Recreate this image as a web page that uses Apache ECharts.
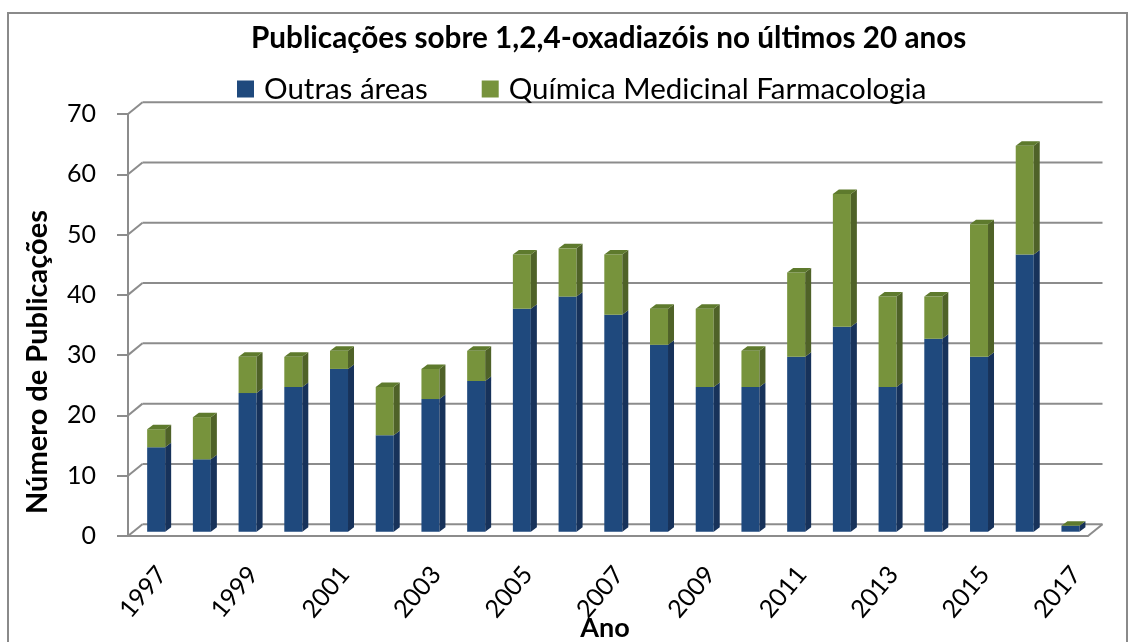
<!DOCTYPE html>
<html><head><meta charset="utf-8">
<script src="https://cdn.jsdelivr.net/npm/echarts@6/dist/echarts.min.js"></script>
<style>html,body{margin:0;padding:0;background:#fff}#c{width:1132px;height:642px}</style>
</head><body><div id="c"></div>
<script>
const years = ['1997','1998','1999','2000','2001','2002','2003','2004','2005','2006','2007','2008','2009','2010','2011','2012','2013','2014','2015','2016','2017'];
const outrasAreas = [14,12,23,24,27,16,22,25,37,39,36,31,24,24,29,34,24,32,29,46,1];
const quimicaMedicinal = [3,7,6,5,3,8,5,5,9,8,10,6,13,6,14,22,15,7,22,18,0];
const yTicks = [0,10,20,30,40,50,60,70];
const seriesNames = ['Outras áreas','Química Medicinal Farmacologia'];
const titleText = 'Publicações sobre 1,2,4-oxadiazóis no últimos 20 anos';
const xAxisTitle = 'Ano';
const yAxisTitle = 'Número de Publicações';

const FONT = 'Lato';
const GRID_COLOR = '#8c8c8c';
const BAR_DX = 5.3, BAR_DY = -4.3;
const WALL_DX = 14.5, WALL_DY = -11.8;
const BW = 18, SIDE_DX = 6, SIDE_DY = -4.5;
const LABEL_DX = 11, LABEL_DY = 34, LABEL_ROT = 50 * Math.PI / 180;

function barRenderer(front, side, top, drawTop) {
  return function (params, api) {
    const i = api.value(0), lo = api.value(1), hi = api.value(2);
    const b = api.coord([i, lo]), t = api.coord([i, hi]);
    const cx = b[0] + BAR_DX;
    const yb = b[1] + BAR_DY, yt = t[1] + BAR_DY;
    const xl = cx - BW / 2, xr = cx + BW / 2;
    const children = [];
    if (yb - yt > 0.01) {
      children.push({type: 'rect', shape: {x: xl, y: yt, width: BW, height: yb - yt}, style: {fill: front}});
      children.push({type: 'polygon', shape: {points: [[xr, yb], [xr + SIDE_DX, yb + SIDE_DY], [xr + SIDE_DX, yt + SIDE_DY], [xr, yt]]}, style: {fill: side}});
    }
    if (drawTop) {
      children.push({type: 'polygon', shape: {points: [[xl, yt], [xl + SIDE_DX, yt + SIDE_DY], [xr + SIDE_DX, yt + SIDE_DY], [xr, yt]]}, style: {fill: top}});
    }
    return {type: 'group', children: children};
  };
}

function wallRenderer(params, api) {
  const v = api.value(1);
  const cs = params.coordSys;
  const y = api.coord([0, v])[1];
  const x0 = cs.x, x1 = cs.x + cs.width;
  const st = {stroke: GRID_COLOR, lineWidth: 2, fill: null};
  const ch = [
    {type: 'line', shape: {x1: x0 + WALL_DX, y1: y + WALL_DY, x2: x1 + WALL_DX, y2: y + WALL_DY}, style: st},
    {type: 'line', shape: {x1: x0, y1: y, x2: x0 + WALL_DX, y2: y + WALL_DY}, style: st}
  ];
  if (v === yTicks[0]) {
    ch.push({type: 'line', shape: {x1: x1, y1: y, x2: x1 + WALL_DX, y2: y + WALL_DY}, style: st});
  }
  return {type: 'group', children: ch};
}

function yearLabelRenderer(params, api) {
  const i = api.value(0);
  const p = api.coord([i, 0]);
  return {
    type: 'text', x: p[0] + LABEL_DX, y: p[1] + LABEL_DY, rotation: LABEL_ROT,
    style: {text: years[i], fontFamily: FONT, fontSize: 25, fill: '#000', align: 'right', verticalAlign: 'middle'}
  };
}

const blueData = years.map((y, i) => [i, 0, outrasAreas[i]]);
const greenData = years.map((y, i) => [i, outrasAreas[i], outrasAreas[i] + quimicaMedicinal[i]]);
const wallData = yTicks.map(v => [0, v]);
const labelData = years.map((y, i) => [i, 0]).filter(d => d[0] % 2 === 0);

const chart = echarts.init(document.getElementById('c'), null, {renderer: 'canvas'});
chart.setOption({
  animation: false,
  backgroundColor: '#fff',
  textStyle: {fontFamily: FONT},
  title: {
    text: titleText, left: 246, top: 17,
    textStyle: {fontFamily: FONT, fontWeight: 'bold', fontSize: 29.7, color: '#000', lineHeight: 32}
  },
  legend: {
    data: [
      {name: seriesNames[0], icon: 'rect', itemStyle: {color: '#1F497D'}},
      {name: seriesNames[1], icon: 'rect', itemStyle: {color: '#77933C'}}
    ],
    left: 232, top: 69, itemWidth: 17, itemHeight: 17, itemGap: 54,
    textStyle: {fontFamily: FONT, fontSize: 29.5, color: '#000', lineHeight: 30, padding: [0, 0, 0, 5]}
  },
  graphic: [
    {type: 'rect', shape: {x: 8, y: 13, width: 1119, height: 640}, style: {fill: null, stroke: '#8a8a8a', lineWidth: 2}, z: -10},
    {type: 'text', x: 38, y: 362, rotation: Math.PI / 2,
      style: {text: yAxisTitle, fontFamily: FONT, fontWeight: 'bold', fontSize: 29, fill: '#000', align: 'center', verticalAlign: 'middle'}},
    {type: 'text', x: 605, y: 628,
      style: {text: xAxisTitle, fontFamily: FONT, fontWeight: 'bold', fontSize: 27, fill: '#000', align: 'center', verticalAlign: 'middle'}}
  ],
  grid: {left: 128, right: 44, top: 114, bottom: 106, containLabel: false, outerBoundsMode: 'none'},
  xAxis: {
    type: 'category', data: years, boundaryGap: true,
    axisLine: {show: true, lineStyle: {color: GRID_COLOR, width: 2}},
    axisTick: {show: false},
    axisLabel: {show: false},
    splitLine: {show: false}
  },
  yAxis: {
    type: 'value', min: 0, max: 70, interval: 10,
    axisLine: {show: true, lineStyle: {color: GRID_COLOR, width: 2}},
    axisTick: {show: true, length: 11, lineStyle: {color: GRID_COLOR, width: 2}},
    axisLabel: {fontSize: 25, color: '#000', margin: 32, fontFamily: FONT},
    splitLine: {show: false}
  },
  series: [
    {type: 'custom', name: 'walls', data: wallData, renderItem: wallRenderer, z: 1, silent: true},
    {type: 'custom', name: 'yearLabels', data: labelData, renderItem: yearLabelRenderer, z: 1, silent: true},
    {type: 'custom', name: seriesNames[0], data: blueData, itemStyle: {color: '#1F497D'},
      renderItem: barRenderer('#1F497D', '#17325A', '#2A5A94', false), z: 3},
    {type: 'custom', name: seriesNames[1], data: greenData, itemStyle: {color: '#77933C'},
      renderItem: barRenderer('#77933C', '#4F6228', '#5E7A2D', true), z: 4}
  ]
});
</script></body></html>
